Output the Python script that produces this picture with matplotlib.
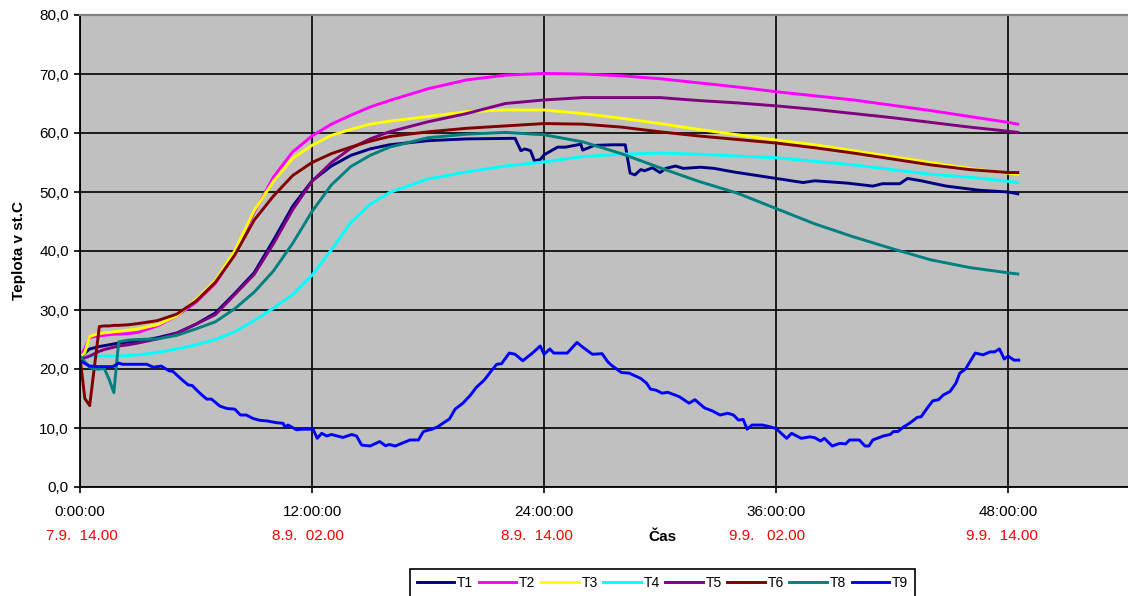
import matplotlib
matplotlib.use("Agg")
import matplotlib.pyplot as plt

plt.rcParams['font.family'] = ['Liberation Sans', 'DejaVu Sans']

# ---------------- data (hours since 7.9. 14:00, temperature in deg C) ----------------
hours = [0, 0.25, 0.5, 0.75, 1, 1.25, 1.5, 1.75, 2, 2.5, 3, 4, 5, 6, 7, 8, 9, 10, 11, 12,
         13, 14, 15, 16, 18, 20, 22, 24, 26, 28, 30, 32, 34, 36, 38, 40, 42, 44, 46, 48, 48.5]

T2 = [22.0, 23.5, 25.3, 25.5, 25.6, 25.7, 25.8, 25.9, 25.9, 26.0, 26.2, 27.3, 29.0, 31.3, 34.5,
      39.5, 46.5, 52.5, 56.8, 59.5, 61.5, 63.0, 64.4, 65.5, 67.5, 69.0, 69.8, 70.1, 70.0, 69.7,
      69.2, 68.5, 67.8, 67.0, 66.3, 65.6, 64.7, 63.8, 62.8, 61.8, 61.5]
T3 = [22.0, 22.8, 25.5, 25.8, 26.0, 26.1, 26.2, 26.3, 26.4, 26.6, 26.8, 27.5, 29.0, 31.8, 35.0,
      40.0, 46.8, 51.8, 55.7, 57.9, 59.6, 60.6, 61.5, 62.0, 62.8, 63.6, 63.9, 63.9, 63.3, 62.5,
      61.6, 60.6, 59.7, 58.8, 58.0, 57.0, 56.0, 55.0, 54.0, 53.2, 53.0]
T4 = [21.8, 22.0, 22.1, 22.2, 22.2, 22.2, 22.2, 22.2, 22.2, 22.3, 22.4, 22.8, 23.4, 24.1, 25.0,
      26.3, 28.2, 30.3, 32.6, 35.9, 40.2, 44.8, 47.9, 49.9, 52.2, 53.4, 54.4, 55.1, 56.0, 56.4,
      56.6, 56.4, 56.1, 55.8, 55.2, 54.6, 53.8, 53.0, 52.5, 51.8, 51.6]
T5 = [21.8, 21.9, 22.2, 22.6, 23.0, 23.3, 23.5, 23.7, 23.9, 24.1, 24.4, 25.1, 26.0, 27.6, 29.2,
      32.6, 36.0, 41.2, 47.0, 51.8, 55.0, 57.4, 59.0, 60.2, 61.9, 63.3, 65.0, 65.6, 66.0, 66.0,
      66.0, 65.5, 65.1, 64.6, 64.0, 63.3, 62.6, 61.8, 61.0, 60.3, 60.1]
T6 = [22.0, 15.0, 13.8, 20.5, 27.2, 27.3, 27.3, 27.4, 27.4, 27.5, 27.7, 28.2, 29.3, 31.5, 34.7,
      39.3, 45.2, 49.3, 52.8, 55.0, 56.5, 57.6, 58.6, 59.4, 60.2, 60.8, 61.2, 61.6, 61.5, 61.0,
      60.2, 59.5, 58.9, 58.3, 57.5, 56.6, 55.6, 54.6, 53.8, 53.3, 53.3]
T8 = [22.2, 21.2, 20.3, 20.0, 20.0, 20.1, 18.3, 16.0, 24.6, 24.9, 25.0, 25.1, 25.7, 26.8, 28.0,
      30.2, 33.0, 36.6, 41.3, 46.7, 51.2, 54.3, 56.2, 57.6, 59.2, 59.8, 60.1, 59.7, 58.5, 56.5,
      54.1, 51.8, 49.8, 47.2, 44.6, 42.4, 40.4, 38.5, 37.2, 36.3, 36.1]

t1_hours = [0, 0.5, 1, 2, 3, 4, 5, 6, 7, 8, 9, 10, 11, 12, 13, 14, 15, 16, 18, 20, 22.5, 22.8,
            23.0, 23.3, 23.5, 23.8, 24.0, 24.7, 25.1, 25.9, 26.0, 26.6, 27.5, 28.2, 28.45, 28.7,
            29.0, 29.2, 29.6, 30.0, 30.3, 30.8, 31.2, 32.1, 32.8, 33.8, 34.8, 36.0, 37.4, 38.0,
            39.7, 41.0, 41.5, 42.4, 42.8, 43.5, 44.8, 46.5, 48.0, 48.5]
T1 = [22.0, 23.4, 23.8, 24.4, 24.7, 25.3, 26.1, 27.6, 29.5, 32.8, 36.3, 41.8, 47.6, 51.9, 54.4,
      56.2, 57.3, 58.0, 58.7, 59.0, 59.1, 57.0, 57.3, 57.0, 55.3, 55.5, 56.3, 57.6, 57.6, 58.1,
      57.1, 57.9, 58.0, 58.0, 53.2, 52.9, 53.8, 53.6, 54.1, 53.3, 54.0, 54.4, 54.0, 54.2, 54.0,
      53.4, 52.9, 52.3, 51.6, 51.9, 51.5, 51.0, 51.4, 51.4, 52.3, 51.9, 51.0, 50.3, 50.0, 49.7]

t9_hours = [0, 0.5, 0.9, 1.7, 2.0, 2.2, 3.45, 3.8, 4.2, 4.6, 4.8, 5.3, 5.6, 5.8, 6.2, 6.55, 6.8,
            7.24, 7.6, 8.0, 8.3, 8.6, 8.96, 9.3, 9.66, 10.17, 10.5, 10.6, 10.76, 11.2, 11.5, 12.05,
            12.27, 12.5, 12.76, 13.0, 13.6, 14.05, 14.3, 14.57, 15.0, 15.5, 15.8, 16.0, 16.3, 17.07,
            17.5, 17.76, 18.2, 18.5, 18.9, 19.1, 19.4, 19.8, 20.2, 20.5, 20.9, 21.3, 21.55, 21.8,
            22.2, 22.5, 22.9, 23.4, 23.8, 24.0, 24.3, 24.5, 25.2, 25.7, 26.0, 26.5, 27.0, 27.3,
            27.5, 28.0, 28.4, 29.0, 29.3, 29.5, 29.8, 30.1, 30.4, 31.0, 31.5, 31.8, 32.3, 32.7,
            33.1, 33.5, 33.8, 34.05, 34.3, 34.5, 34.75, 35.3, 35.7, 36.0, 36.55, 36.8, 37.3, 37.75,
            38.0, 38.3, 38.5, 38.9, 39.3, 39.6, 39.8, 40.3, 40.6, 40.8, 41.0, 41.55, 41.9, 42.07,
            42.3, 42.6, 42.9, 43.3, 43.5, 43.8, 44.1, 44.4, 44.65, 45.0, 45.3, 45.5, 45.8, 46.0,
            46.3, 46.7, 47.07, 47.3, 47.55, 47.8, 48.0, 48.3, 48.55]
T9 = [21.4, 20.5, 20.4, 20.4, 21.0, 20.8, 20.8, 20.3, 20.5, 19.7, 19.6, 18.1, 17.3, 17.2, 15.9,
      14.9, 14.9, 13.7, 13.3, 13.2, 12.2, 12.2, 11.6, 11.3, 11.2, 10.9, 10.8, 10.2, 10.5, 9.7,
      9.8, 9.8, 8.25, 9.1, 8.65, 8.9, 8.4, 8.9, 8.65, 7.1, 6.95, 7.7, 7.0, 7.2, 6.95, 7.97, 7.97,
      9.4, 9.8, 10.2, 11.1, 11.5, 13.2, 14.2, 15.6, 16.9, 18.1, 19.8, 20.8, 20.9, 22.7, 22.5,
      21.4, 22.7, 23.9, 22.5, 23.4, 22.7, 22.7, 24.5, 23.7, 22.5, 22.6, 21.2, 20.6, 19.4, 19.3,
      18.4, 17.6, 16.6, 16.4, 15.9, 16.05, 15.3, 14.2, 14.8, 13.4, 12.9, 12.2, 12.5, 12.2, 11.35,
      11.45, 9.8, 10.5, 10.5, 10.2, 9.9, 8.25, 9.1, 8.25, 8.5, 8.35, 7.8, 8.25, 6.95, 7.4, 7.3,
      7.97, 7.97, 6.95, 6.95, 7.97, 8.65, 8.9, 9.4, 9.4, 10.2, 10.8, 11.8, 11.9, 13.3, 14.6,
      14.8, 15.6, 16.2, 17.6, 19.3, 20.0, 21.1, 22.7, 22.4, 22.9, 22.9, 23.4, 21.7, 22.2, 21.5,
      21.5]

series_names = ["T1", "T2", "T3", "T4", "T5", "T6", "T8", "T9"]
series_x = [t1_hours, hours, hours, hours, hours, hours, hours, t9_hours]
series_y = [T1, T2, T3, T4, T5, T6, T8, T9]
series_colors = ["#000080", "#FF00FF", "#FFFF00", "#00FFFF", "#800080", "#800000", "#008080", "#0000FF"]

x_ticks = [0, 12, 24, 36, 48]
x_tick_labels = ["0:00:00", "12:00:00", "24:00:00", "36:00:00", "48:00:00"]
date_labels = ["7.9.  14.00", "8.9.  02.00", "8.9.  14.00", "9.9.   02.00", "9.9.  14.00"]
y_ticks = [0, 10, 20, 30, 40, 50, 60, 70, 80]
y_tick_labels = ["0,0", "10,0", "20,0", "30,0", "40,0", "50,0", "60,0", "70,0", "80,0"]

# ---------------- figure ----------------
W, H = 1128, 596
fig = plt.figure(figsize=(W / 100, H / 100), dpi=100)
ax = fig.add_axes([80 / W, (H - 487) / H, (W - 80) / W, (487 - 15) / H])
ax.set_facecolor("#C0C0C0")

for xs, ys, c, n in zip(series_x, series_y, series_colors, series_names):
    ax.plot(xs, ys, color=c, lw=2.1, label=n, solid_joinstyle="round")

ax.set_xlim(0, 54.2)
ax.set_ylim(0, 80)
ax.set_xticks(x_ticks)
ax.set_xticklabels(x_tick_labels, fontsize=11)
ax.set_yticks(y_ticks)
ax.set_yticklabels(y_tick_labels, fontsize=11)
ax.tick_params(axis="both", direction="out", length=4, width=1.2, color="black")
ax.tick_params(axis="x", pad=9)
ax.tick_params(axis="y", pad=4)

ax.set_axisbelow(True)
ax.grid(True, color="black", lw=1.2)

for s in ["left", "bottom"]:
    ax.spines[s].set_color("black")
    ax.spines[s].set_linewidth(1.3)
ax.spines["top"].set_color("#808080")
ax.spines["top"].set_linewidth(1.6)
ax.spines["right"].set_visible(False)

fig.text(19 / W, 1 - 251 / H, "Teplota v st.C", rotation=90, ha="center", va="center",
         fontsize=11, fontweight="bold")

date_x_px = [82, 308, 537, 767, 1002]
for xp, lab in zip(date_x_px, date_labels):
    fig.text(xp / W, 1 - 536 / H, lab, ha="center", va="center", fontsize=11, color="#FF0000")

fig.text(662 / W, 1 - 537 / H, "Čas", ha="center", va="center", fontsize=11, fontweight="bold")

leg = fig.legend(loc="upper left", bbox_to_anchor=(410 / W, 1 - 569 / H), ncol=8,
                 fontsize=10, frameon=True, fancybox=False, edgecolor="black",
                 handlelength=2.7, handletextpad=0.2, columnspacing=0.4, borderpad=0.5,
                 borderaxespad=0)
leg.get_frame().set_linewidth(1.2)
leg.get_frame().set_facecolor("white")
leg.get_frame().set_alpha(1)

fig.savefig("out.png", dpi=100)
